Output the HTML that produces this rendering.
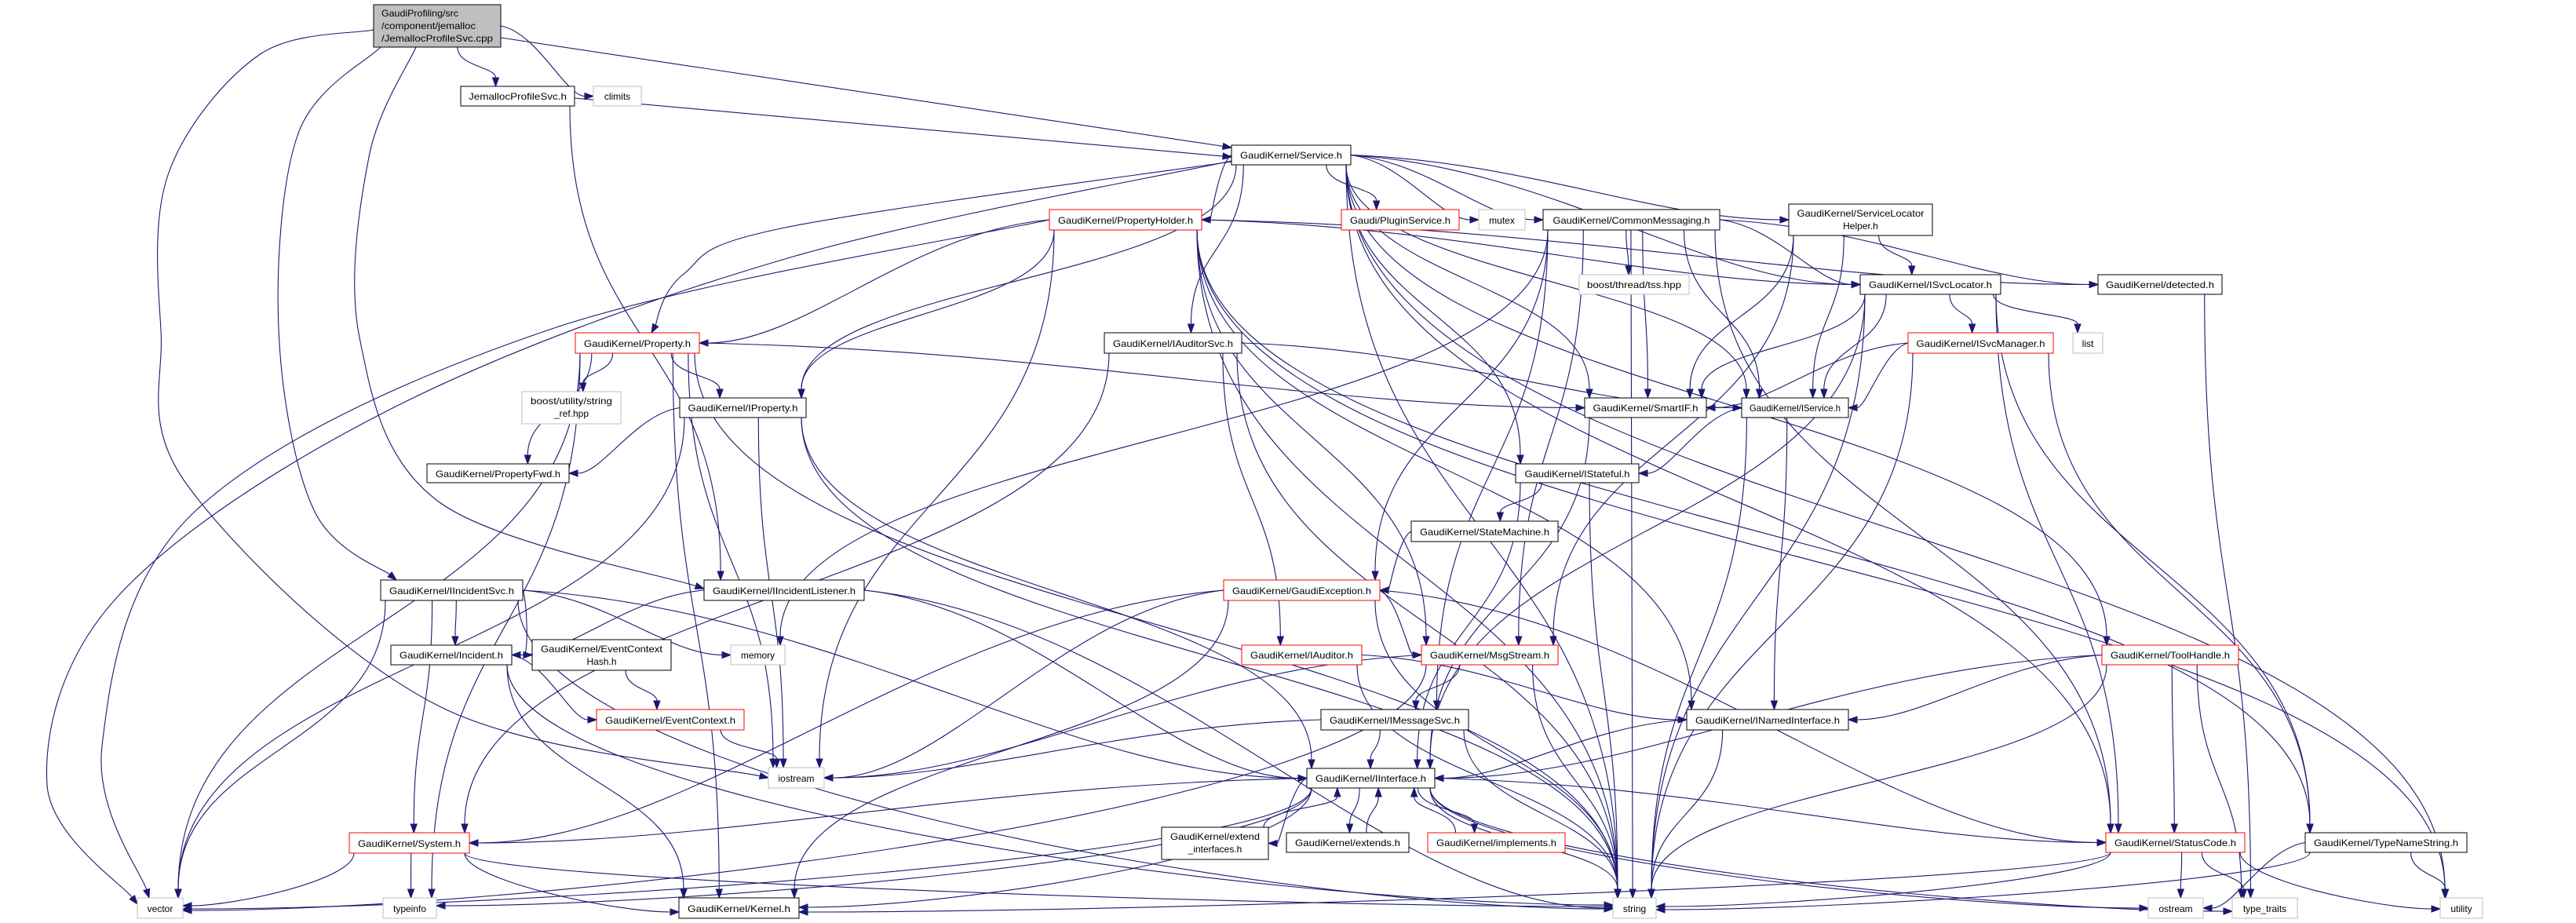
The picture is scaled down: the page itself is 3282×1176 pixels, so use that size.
<!DOCTYPE html>
<html><head><meta charset="utf-8"><style>
html,body{margin:0;padding:0;background:#fff;}
svg{display:block;}
text{font-family:"Liberation Sans",Helvetica,sans-serif;font-size:12px;fill:#000;}
</style></head><body>
<svg id="g" xmlns="http://www.w3.org/2000/svg" width="3282" height="1176" viewBox="0 0 3282 1176">
<g id="edges" fill="none" stroke="#191970" stroke-width="1.1"></g>
<g id="arrows" fill="#191970" stroke="#191970" stroke-width="1"></g>
<g id="nodes">
<rect x="476" y="6" width="162" height="54" fill="#bfbfbf" stroke="#000"/>
<text x="486" y="21" textLength="98" lengthAdjust="spacingAndGlyphs">GaudiProfiling/src</text>
<text x="486" y="37" textLength="120" lengthAdjust="spacingAndGlyphs">/component/jemalloc</text>
<text x="486" y="53" textLength="142" lengthAdjust="spacingAndGlyphs">/JemallocProfileSvc.cpp</text>

<rect x="587" y="110" width="145" height="25" fill="#fff" stroke="#000"/><text x="659.5" y="127" text-anchor="middle" textLength="125" lengthAdjust="spacingAndGlyphs">JemallocProfileSvc.h</text>
<rect x="756" y="110" width="61" height="25" fill="#fff" stroke="#bfbfbf"/><text x="786.5" y="127" text-anchor="middle">climits</text>
<rect x="1569" y="185" width="152" height="25" fill="#fff" stroke="#000"/><text x="1645" y="202" text-anchor="middle" textLength="130" lengthAdjust="spacingAndGlyphs">GaudiKernel/Service.h</text>
<rect x="1337" y="267" width="194" height="26" fill="#fff" stroke="#f00"/><text x="1434" y="285" text-anchor="middle" textLength="172" lengthAdjust="spacingAndGlyphs">GaudiKernel/PropertyHolder.h</text>
<rect x="1709" y="267" width="150" height="26" fill="#fff" stroke="#f00"/><text x="1784" y="285" text-anchor="middle" textLength="128" lengthAdjust="spacingAndGlyphs">Gaudi/PluginService.h</text>
<rect x="1884" y="267" width="59" height="26" fill="#fff" stroke="#bfbfbf"/><text x="1913.5" y="285" text-anchor="middle">mutex</text>
<rect x="1966" y="267" width="225" height="26" fill="#fff" stroke="#000"/><text x="2078.5" y="285" text-anchor="middle" textLength="200" lengthAdjust="spacingAndGlyphs">GaudiKernel/CommonMessaging.h</text>
<rect x="2279" y="260" width="183" height="40" fill="#fff" stroke="#000"/><text x="2370.5" y="276" text-anchor="middle" textLength="162" lengthAdjust="spacingAndGlyphs">GaudiKernel/ServiceLocator</text><text x="2370.5" y="292" text-anchor="middle">Helper.h</text>
<rect x="2012" y="350" width="140" height="25" fill="#fff" stroke="#bfbfbf"/><text x="2082" y="367" text-anchor="middle" textLength="120" lengthAdjust="spacingAndGlyphs">boost/thread/tss.hpp</text>
<rect x="2370" y="350" width="179" height="25" fill="#fff" stroke="#000"/><text x="2459.5" y="367" text-anchor="middle" textLength="157" lengthAdjust="spacingAndGlyphs">GaudiKernel/ISvcLocator.h</text>
<rect x="2673" y="350" width="158" height="25" fill="#fff" stroke="#000"/><text x="2752" y="367" text-anchor="middle" textLength="138" lengthAdjust="spacingAndGlyphs">GaudiKernel/detected.h</text>
<rect x="733" y="424" width="158" height="26" fill="#fff" stroke="#f00"/><text x="812" y="442" text-anchor="middle" textLength="136" lengthAdjust="spacingAndGlyphs">GaudiKernel/Property.h</text>
<rect x="1407" y="424" width="175" height="26" fill="#fff" stroke="#000"/><text x="1494.5" y="442" text-anchor="middle" textLength="153" lengthAdjust="spacingAndGlyphs">GaudiKernel/IAuditorSvc.h</text>
<rect x="2431" y="424" width="185" height="26" fill="#fff" stroke="#f00"/><text x="2523.5" y="442" text-anchor="middle" textLength="164" lengthAdjust="spacingAndGlyphs">GaudiKernel/ISvcManager.h</text>
<rect x="2641" y="424" width="38" height="26" fill="#fff" stroke="#bfbfbf"/><text x="2660" y="442" text-anchor="middle">list</text>
<rect x="665" y="499" width="126" height="41" fill="#fff" stroke="#bfbfbf"/><text x="728" y="515" text-anchor="middle" textLength="104" lengthAdjust="spacingAndGlyphs">boost/utility/string</text><text x="728" y="531" text-anchor="middle">_ref.hpp</text>
<rect x="866" y="507" width="161" height="25" fill="#fff" stroke="#000"/><text x="946.5" y="524" text-anchor="middle" textLength="140" lengthAdjust="spacingAndGlyphs">GaudiKernel/IProperty.h</text>
<rect x="2019" y="507" width="155" height="25" fill="#fff" stroke="#000"/><text x="2096.5" y="524" text-anchor="middle" textLength="134" lengthAdjust="spacingAndGlyphs">GaudiKernel/SmartIF.h</text>
<rect x="2219" y="507" width="136" height="25" fill="#fff" stroke="#000"/><text x="2287" y="524" text-anchor="middle" textLength="116" lengthAdjust="spacingAndGlyphs">GaudiKernel/IService.h</text>
<rect x="544" y="591" width="181" height="24" fill="#fff" stroke="#000"/><text x="634.5" y="608" text-anchor="middle" textLength="159" lengthAdjust="spacingAndGlyphs">GaudiKernel/PropertyFwd.h</text>
<rect x="1931" y="591" width="157" height="24" fill="#fff" stroke="#000"/><text x="2009.5" y="608" text-anchor="middle" textLength="134" lengthAdjust="spacingAndGlyphs">GaudiKernel/IStateful.h</text>
<rect x="1798" y="664" width="187" height="26" fill="#fff" stroke="#000"/><text x="1891.5" y="682" text-anchor="middle" textLength="165" lengthAdjust="spacingAndGlyphs">GaudiKernel/StateMachine.h</text>
<rect x="485" y="739" width="181" height="26" fill="#fff" stroke="#000"/><text x="575.5" y="757" text-anchor="middle" textLength="159" lengthAdjust="spacingAndGlyphs">GaudiKernel/IIncidentSvc.h</text>
<rect x="897" y="739" width="204" height="26" fill="#fff" stroke="#000"/><text x="999" y="757" text-anchor="middle" textLength="182" lengthAdjust="spacingAndGlyphs">GaudiKernel/IIncidentListener.h</text>
<rect x="1559" y="739" width="199" height="26" fill="#fff" stroke="#f00"/><text x="1658.5" y="757" text-anchor="middle" textLength="177" lengthAdjust="spacingAndGlyphs">GaudiKernel/GaudiException.h</text>
<rect x="498" y="822" width="154" height="25" fill="#fff" stroke="#000"/><text x="575" y="839" text-anchor="middle" textLength="132" lengthAdjust="spacingAndGlyphs">GaudiKernel/Incident.h</text>
<rect x="678" y="815" width="177" height="39" fill="#fff" stroke="#000"/><text x="766.5" y="831" text-anchor="middle" textLength="155" lengthAdjust="spacingAndGlyphs">GaudiKernel/EventContext</text><text x="766.5" y="847" text-anchor="middle">Hash.h</text>
<rect x="931" y="822" width="69" height="25" fill="#fff" stroke="#bfbfbf"/><text x="965.5" y="839" text-anchor="middle">memory</text>
<rect x="1582" y="822" width="153" height="25" fill="#fff" stroke="#f00"/><text x="1658.5" y="839" text-anchor="middle" textLength="131" lengthAdjust="spacingAndGlyphs">GaudiKernel/IAuditor.h</text>
<rect x="1811" y="822" width="174" height="25" fill="#fff" stroke="#f00"/><text x="1898" y="839" text-anchor="middle" textLength="152" lengthAdjust="spacingAndGlyphs">GaudiKernel/MsgStream.h</text>
<rect x="2678" y="822" width="174" height="25" fill="#fff" stroke="#f00"/><text x="2765" y="839" text-anchor="middle" textLength="152" lengthAdjust="spacingAndGlyphs">GaudiKernel/ToolHandle.h</text>
<rect x="760" y="904" width="188" height="26" fill="#fff" stroke="#f00"/><text x="854" y="922" text-anchor="middle" textLength="166" lengthAdjust="spacingAndGlyphs">GaudiKernel/EventContext.h</text>
<rect x="1683" y="904" width="188" height="26" fill="#fff" stroke="#000"/><text x="1777" y="922" text-anchor="middle" textLength="166" lengthAdjust="spacingAndGlyphs">GaudiKernel/IMessageSvc.h</text>
<rect x="2149" y="904" width="206" height="26" fill="#fff" stroke="#000"/><text x="2252" y="922" text-anchor="middle" textLength="184" lengthAdjust="spacingAndGlyphs">GaudiKernel/INamedInterface.h</text>
<rect x="979" y="978" width="71" height="26" fill="#fff" stroke="#bfbfbf"/><text x="1014.5" y="996" text-anchor="middle">iostream</text>
<rect x="1665" y="979" width="163" height="25" fill="#fff" stroke="#000"/><text x="1746.5" y="996" text-anchor="middle" textLength="141" lengthAdjust="spacingAndGlyphs">GaudiKernel/IInterface.h</text>
<rect x="445" y="1061" width="153" height="26" fill="#fff" stroke="#f00"/><text x="521.5" y="1079" text-anchor="middle" textLength="131" lengthAdjust="spacingAndGlyphs">GaudiKernel/System.h</text>
<rect x="1480" y="1054" width="136" height="41" fill="#fff" stroke="#000"/><text x="1548" y="1070" text-anchor="middle" textLength="114" lengthAdjust="spacingAndGlyphs">GaudiKernel/extend</text><text x="1548" y="1086" text-anchor="middle">_interfaces.h</text>
<rect x="1639" y="1061" width="156" height="25" fill="#fff" stroke="#000"/><text x="1717" y="1078" text-anchor="middle" textLength="134" lengthAdjust="spacingAndGlyphs">GaudiKernel/extends.h</text>
<rect x="1819" y="1061" width="175" height="25" fill="#fff" stroke="#f00"/><text x="1906.5" y="1078" text-anchor="middle" textLength="153" lengthAdjust="spacingAndGlyphs">GaudiKernel/implements.h</text>
<rect x="2683" y="1061" width="177" height="25" fill="#fff" stroke="#f00"/><text x="2771.5" y="1078" text-anchor="middle" textLength="155" lengthAdjust="spacingAndGlyphs">GaudiKernel/StatusCode.h</text>
<rect x="2937" y="1061" width="206" height="25" fill="#fff" stroke="#000"/><text x="3040" y="1078" text-anchor="middle" textLength="184" lengthAdjust="spacingAndGlyphs">GaudiKernel/TypeNameString.h</text>
<rect x="175" y="1144" width="58" height="26" fill="#fff" stroke="#bfbfbf"/><text x="204" y="1162" text-anchor="middle">vector</text>
<rect x="488" y="1144" width="68" height="26" fill="#fff" stroke="#bfbfbf"/><text x="522" y="1162" text-anchor="middle">typeinfo</text>
<rect x="865" y="1144" width="153" height="26" fill="#fff" stroke="#000"/><text x="941.5" y="1162" text-anchor="middle" textLength="131" lengthAdjust="spacingAndGlyphs">GaudiKernel/Kernel.h</text>
<rect x="2055" y="1144" width="55" height="26" fill="#fff" stroke="#bfbfbf"/><text x="2082.5" y="1162" text-anchor="middle">string</text>
<rect x="2737" y="1144" width="70" height="26" fill="#fff" stroke="#bfbfbf"/><text x="2772" y="1162" text-anchor="middle">ostream</text>
<rect x="2844" y="1144" width="83" height="26" fill="#fff" stroke="#bfbfbf"/><text x="2885.5" y="1162" text-anchor="middle">type_traits</text>
<rect x="3109" y="1144" width="54" height="26" fill="#fff" stroke="#bfbfbf"/><text x="3136" y="1162" text-anchor="middle">utility</text>
</g>
</svg>
<script>
var N={
root:[476,6,638,60],jem:[587,110,732,135],clim:[756,110,817,135],svc:[1569,185,1721,210],
ph:[1337,267,1531,293],plug:[1709,267,1859,293],mutex:[1884,267,1943,293],cm:[1966,267,2191,293],
slh:[2279,260,2462,300],tss:[2012,350,2152,375],isl:[2370,350,2549,375],det:[2673,350,2831,375],
prop:[733,424,891,450],ias:[1407,424,1582,450],ism:[2431,424,2616,450],list:[2641,424,2679,450],
bsr:[665,499,791,540],iprop:[866,507,1027,532],sif:[2019,507,2174,532],isvc:[2219,507,2355,532],
pfwd:[544,591,725,615],ist:[1931,591,2088,615],sm:[1798,664,1985,690],iis:[485,739,666,765],
iil:[897,739,1101,765],gex:[1559,739,1758,765],inc:[498,822,652,847],ech:[678,815,855,854],
mem:[931,822,1000,847],iaud:[1582,822,1735,847],ms:[1811,822,1985,847],th:[2678,822,2852,847],
ec:[760,904,948,930],imsg:[1683,904,1871,930],ini:[2149,904,2355,930],ios:[979,978,1050,1004],
ii:[1665,979,1828,1004],sys:[445,1061,598,1087],ext:[1480,1054,1616,1095],exts:[1639,1061,1795,1086],
impl:[1819,1061,1994,1086],sc:[2683,1061,2860,1086],tns:[2937,1061,3143,1086],vec:[175,1144,233,1170],
ti:[488,1144,556,1170],ker:[865,1144,1018,1170],str:[2055,1144,2110,1170],ost:[2737,1144,2807,1170],
tt:[2844,1144,2927,1170],util:[3109,1144,3163,1170]};
var OV={
'root>ios':[[476,38],[330,70],[215,220],[205,420],[240,620],[560,900],[979,991]],
'root>iis':[[485,60],[380,170],[355,420],[400,650],[505,739]],
'root>iil':[[530,60],[470,200],[458,430],[560,640],[897,750]],
'root>svc':[[638,48],[1569,188]],
'jem>svc':[[732,125],[1569,200]],
'svc>vec':[[1569,205],[1000,330],[500,520],[150,760],[60,1000],[175,1152]],
'svc>prop':[[1569,206],[1000,290],[870,350],[830,424]],
'ph>vec':[[1337,280],[700,420],[250,650],[130,950],[190,1144]]
};
var E=[
['root','jem'],['root','clim'],['root','svc'],['root','iis'],['root','iil'],['root','ios'],
['jem','svc'],['jem','iil'],
['svc','ph'],['svc','plug'],['svc','mutex'],['svc','cm'],['svc','slh'],['svc','isl'],['svc','ias'],['svc','prop'],['svc','iprop'],['svc','sif'],['svc','isvc'],['svc','ist'],['svc','th'],['svc','util'],['svc','vec'],['svc','str'],['svc','sc'],
['ph','prop'],['ph','iprop'],['ph','vec'],['ph','str'],['ph','ios'],['ph','ms'],['ph','ini'],['ph','isl'],['ph','det'],['ph','tns'],['ph','util'],
['cm','tss'],['cm','isl'],['cm','sif'],['cm','isvc'],['cm','ms'],['cm','gex'],['cm','mem'],['cm','det'],['cm','imsg'],['cm','str'],['cm','sc'],
['slh','isl'],['slh','sif'],['slh','isvc'],['slh','ms'],
['isl','ism'],['isl','list'],['isl','sif'],['isl','isvc'],['isl','ii'],['isl','str'],['isl','tns'],['isl','sc'],
['ism','sif'],['ism','isvc'],['ism','str'],['ism','tns'],
['det','tt'],
['prop','iprop'],['prop','pfwd'],['prop','sif'],['prop','bsr'],['prop','vec'],['prop','ti'],['prop','ker'],['prop','str'],['prop','ios'],
['iprop','pfwd'],['iprop','vec'],['iprop','ios'],['iprop','str'],['iprop','ii'],
['ias','isvc'],['ias','iaud'],['ias','sys'],['ias','str'],
['sif','ii'],['isvc','ist'],['isvc','ini'],['isvc','str'],
['ist','sm'],['ist','ii'],['ist','str'],['sm','gex'],
['gex','sys'],['gex','ms'],['gex','str'],['gex','ios'],['gex','ker'],['gex','sc'],
['iaud','ini'],['iaud','str'],
['ms','imsg'],['ms','str'],['ms','ios'],['ms','vec'],
['imsg','ii'],['imsg','str'],['imsg','ios'],
['ini','ii'],['ini','str'],
['ii','ext'],['ii','exts'],['ii','impl'],['ii','sys'],['ii','ker'],['ii','str'],['ii','sc'],['ii','ost'],['ii','tt'],['ii','ti'],['ii','vec'],
['ext','ii'],['exts','ii'],['impl','ii'],
['th','ini'],['th','ii'],['th','str'],['th','tt'],['th','sc'],
['sc','ost'],['sc','tt'],['sc','util'],['sc','ker'],['sc','str'],
['tns','str'],['tns','ost'],['tns','util'],
['iis','inc'],['iis','ech'],['iis','mem'],['iis','vec'],['iis','sys'],['iis','str'],['iis','ii'],
['iil','inc'],['iil','ii'],['iil','str'],
['inc','ec'],['inc','ker'],['inc','str'],['ech','ec'],['ec','ios'],
['sys','vec'],['sys','ti'],['sys','ker'],['sys','str']
];
var NS='http://www.w3.org/2000/svg',eg=document.getElementById('edges'),ag=document.getElementById('arrows');
function cl(v,a,b){return Math.max(a,Math.min(b,v));}
function draw(d,tx,ty,c2x,c2y){
 var ux=tx-c2x,uy=ty-c2y,L=Math.hypot(ux,uy)||1;ux/=L;uy/=L;
 var bx=tx-ux*11,by=ty-uy*11;
 var p=document.createElementNS(NS,'path');p.setAttribute('d',d+' '+bx+','+by);eg.appendChild(p);
 var a=document.createElementNS(NS,'polygon');
 a.setAttribute('points',tx+','+ty+' '+(bx-uy*4)+','+(by+ux*4)+' '+(bx+uy*4)+','+(by-ux*4));
 ag.appendChild(a);
}
E.forEach(function(e,i){
 var key=e[0]+'>'+e[1];
 if(OV[key]){
  var P=OV[key],d='M'+P[0][0]+','+P[0][1],lc;
  if(P.length==2){draw(d+' L',P[1][0],P[1][1],P[0][0],P[0][1]);return;}
  for(var k=0;k<P.length-1;k++){
   var p0=P[Math.max(0,k-1)],p1=P[k],p2=P[k+1],p3=P[Math.min(P.length-1,k+2)];
   var a1x=p1[0]+(p2[0]-p0[0])/6,a1y=p1[1]+(p2[1]-p0[1])/6,a2x=p2[0]-(p3[0]-p1[0])/6,a2y=p2[1]-(p3[1]-p1[1])/6;
   if(k<P.length-2){d+=' C'+a1x+','+a1y+' '+a2x+','+a2y+' '+p2[0]+','+p2[1];}
   else{d+=' C'+a1x+','+a1y+' '+a2x+','+a2y;draw(d,p2[0],p2[1],a2x,a2y);}
  }
  return;
 }
 var s=N[e[0]],t=N[e[1]];
 var scx=(s[0]+s[2])/2,tcx=(t[0]+t[2])/2,scy=(s[1]+s[3])/2,tcy=(t[1]+t[3])/2;
 var sx,sy,tx,ty,c1x,c1y,c2x,c2y;
 var j=((i*37)%11-5)*2;
 if(t[1]>s[3]+5){
  sx=cl(scx+(tcx-scx)*0.35+j,s[0]+6,s[2]-6);sy=s[3];
  var dx=Math.abs(tcx-sx),dy=t[1]-sy;
  if(dx>3*dy && t[1]>1100){
   ty=tcy+j*0.5; tx=(tcx>sx)?t[0]:t[2];
   c1x=sx;c1y=sy+dy*0.6;c2x=tx+(sx-tx)*0.3;c2y=ty;
  } else if(dx>2.5*dy && (tcx<s[0]||tcx>s[2])){
   tx=(tcx>sx)?t[0]:t[2];ty=cl(tcy,t[1]+3,t[3]-3);sx=(tcx>scx)?s[2]:s[0];sy=scy;
   c1x=sx+(tx-sx)*0.4;c1y=sy+(ty-sy)*0.1;c2x=tx-(tx-sx)*0.3;c2y=ty;
  } else {
   tx=cl(tcx+(sx-tcx)*0.3+j*0.5,t[0]+6,t[2]-6);ty=t[1];
   c1x=sx;c1y=sy+dy*0.5;c2x=tx;c2y=ty-dy*0.5;
  }
 } else if(s[1]>t[3]+5){
  sx=cl(scx+(tcx-scx)*0.4+12,s[0]+6,s[2]-6);sy=s[1];
  tx=cl(tcx+(sx-tcx)*0.4+12,t[0]+6,t[2]-6);ty=t[3];
  var dy2=sy-ty;c1x=sx;c1y=sy-dy2*0.5;c2x=tx;c2y=ty+dy2*0.5;
 } else {
  if(tcx>scx){sx=s[2];tx=t[0];}else{sx=s[0];tx=t[2];}
  sy=scy;ty=tcy;c1x=(sx+tx)/2;c1y=sy;c2x=(sx+tx)/2;c2y=ty;
 }
 draw('M'+sx+','+sy+' C'+c1x+','+c1y+' '+c2x+','+c2y,tx,ty,c2x,c2y);
});
</script>
</body></html>
